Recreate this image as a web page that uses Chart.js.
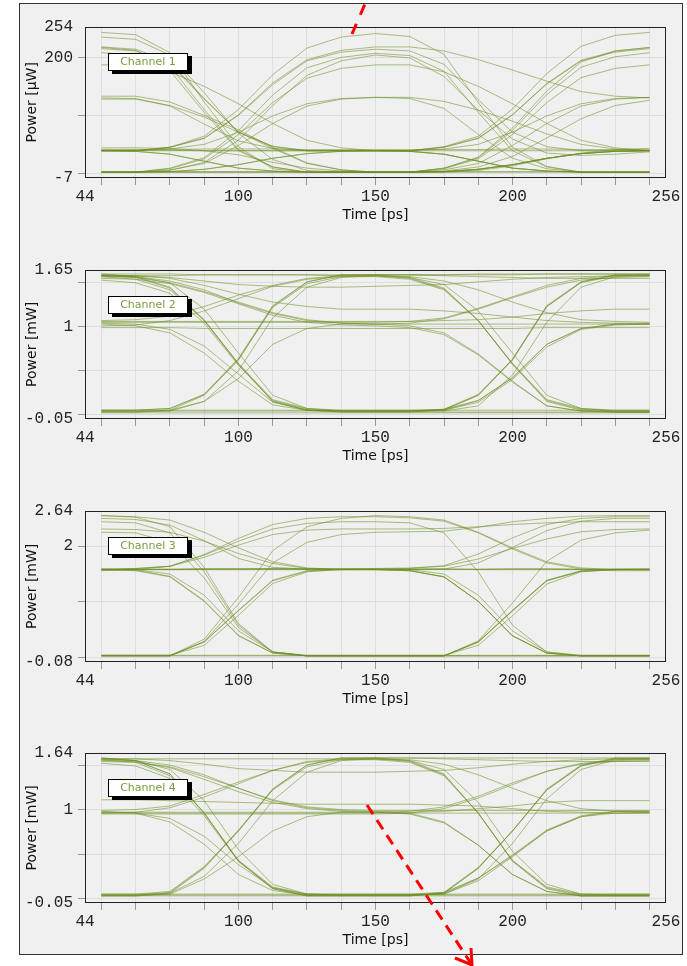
<!DOCTYPE html>
<html>
<head>
<meta charset="utf-8">
<script src="https://cdn.jsdelivr.net/npm/chart.js@4/dist/chart.umd.min.js"></script>
<style>
  html, body { margin: 0; padding: 0; background: #fff; overflow: hidden; width: 687px; height: 966px; }
  #panel { position: absolute; left: 19px; top: 3px; width: 662px; height: 950px; border: 1px solid #333; background: #f0f0f0; }
  canvas { position: absolute; left: 0; }
  .chan { position: absolute; left: 108px; width: 78px; height: 16px; border: 1px solid #000; background: #fff;
          box-shadow: 4px 3px 0 #000; font: 11px "DejaVu Sans", sans-serif; color: #7a9a3c; text-align: center; line-height: 16px; }
  #marks { position: absolute; left: 0; top: 0; pointer-events: none; }
</style>
</head>
<body>
<div id="panel"></div>
<canvas id="c1"></canvas>
<canvas id="c2"></canvas>
<canvas id="c3"></canvas>
<canvas id="c4"></canvas>
<div class="chan" id="l1">Channel 1</div>
<div class="chan" id="l2">Channel 2</div>
<div class="chan" id="l3">Channel 3</div>
<div class="chan" id="l4">Channel 4</div>
<svg id="marks" width="687" height="966">
  <line x1="352" y1="34" x2="365" y2="4" stroke="#f00" stroke-width="3" stroke-dasharray="11 10"/>
  <line x1="367" y1="805" x2="472" y2="965" stroke="#f00" stroke-width="3" stroke-dasharray="11 7"/>
  <polyline points="455,958 472,965 471,948" fill="none" stroke="#f00" stroke-width="3"/>
</svg>
<script>
// sample times of every trace (ps)
const timePs = [50, 62.5, 75, 87.5, 100, 112.5, 125, 137.5, 150, 162.5, 175, 187.5, 200, 212.5, 225, 237.5, 250];
const xRange = [44, 256];
const xLabelled = [100, 150, 200];

// y axes: range, grid lines, labelled values
const ch1Range = [-7, 254];    const ch1Grid = [0, 100, 200];      const ch1Labelled = [200];
const ch2Range = [-0.05, 1.65]; const ch2Grid = [0, 0.5, 1, 1.5];  const ch2Labelled = [1];
const ch3Range = [-0.08, 2.64]; const ch3Grid = [0, 1, 2];         const ch3Labelled = [2];
const ch4Range = [-0.05, 1.64]; const ch4Grid = [0, 0.5, 1, 1.5];  const ch4Labelled = [1];

// Channel 1, power in uW
const ch1Traces = [
  [244,240,209,124,47,9,3,3,3,3,4,8,16,27,35,39,40],
  [218,213,186,111,42,12,3,3,3,3,10,29,79,143,193,212,218],
  [216,212,190,129,72,47,40,40,40,39,34,22,10,5,3,3,3],
  [209,205,178,106,40,12,3,3,3,3,9,26,68,123,166,182,188],
  [188,188,176,151,121,87,58,45,40,40,43,51,72,100,121,130,132],
  [134,134,124,101,76,46,19,7,3,3,4,8,16,27,35,39,40],
  [131,130,117,86,57,44,40,40,40,39,34,22,10,5,3,3,3],
  [129,129,118,98,72,44,18,7,3,3,3,3,3,3,3,3,3],
  [40,40,46,65,111,171,217,236,242,237,206,123,46,13,3,3,3],
  [40,40,46,61,101,154,195,210,215,212,189,128,72,47,40,40,40],
  [41,41,41,40,40,40,40,40,40,40,47,65,112,173,220,239,244],
  [40,39,34,22,10,5,3,3,3,3,10,28,75,137,184,202,209],
  [40,40,43,51,72,100,121,130,132,132,125,110,91,69,51,43,40],
  [3,3,10,28,75,136,183,201,208,204,177,106,40,12,3,3,3],
  [3,3,9,26,68,123,165,182,188,188,176,151,121,87,58,45,40],
  [3,3,4,8,16,27,35,39,40,40,46,62,102,156,196,212,218],
  [3,3,3,3,3,3,3,3,3,3,7,18,49,87,117,129,132],
  [3,3,7,18,49,87,117,129,132,130,113,68,27,9,3,3,3],
  [40,39,34,22,10,5,3,3,3,3,4,8,16,27,35,39,40],
  [3,3,4,8,16,27,35,39,40,40,40,40,40,40,40,40,40],
  [40,40,40,40,40,40,40,40,40,39,34,22,10,5,3,3,3],
  [3,3,3,3,3,3,3,3,3,3,4,8,16,27,35,39,40],
  [42,42,42,43,43,43,42,42,42,42,42,42,43,43,42,42,42],
  [4,4,4,4,4,4,4,4,4,4,4,4,4,4,4,4,4],
  [219,215,193,130,72,48,40,40,40,40,46,61,102,155,195,210,216],
  [40,40,46,62,102,157,197,213,219,219,212,197,179,160,142,134,131],
  [236,232,205,140,70,25,6,3,3,3,5,12,30,62,95,118,127],
  [3,3,6,20,58,118,170,195,205,200,168,110,60,36,32,34,38],
  [45,45,44,40,33,20,10,5,3,3,3,6,14,26,36,42,44]
];

// Channel 2, power in mW
const ch2Traces = [
  [1.59,1.56,1.44,1.07,0.57,0.15,0.05,0.03,0.03,0.03,0.05,0.22,0.62,1.23,1.51,1.59,1.59],
  [1.57,1.54,1.42,1.07,0.58,0.17,0.07,0.05,0.05,0.05,0.06,0.16,0.42,0.80,0.98,1.03,1.03],
  [1.55,1.54,1.49,1.39,1.26,1.13,1.05,1.02,1.01,0.99,0.91,0.68,0.37,0.10,0.04,0.03,0.03],
  [1.01,1.02,1.07,1.18,1.32,1.46,1.54,1.57,1.58,1.55,1.43,1.07,0.58,0.16,0.06,0.04,0.04],
  [0.05,0.05,0.07,0.23,0.64,1.24,1.51,1.59,1.59,1.59,1.58,1.57,1.56,1.55,1.55,1.55,1.55],
  [0.03,0.03,0.04,0.15,0.41,0.80,0.98,1.03,1.03,1.01,0.93,0.69,0.38,0.10,0.04,0.03,0.03],
  [1.03,1.01,0.93,0.70,0.38,0.11,0.05,0.04,0.04,0.04,0.06,0.22,0.63,1.23,1.50,1.58,1.58],
  [1.58,1.58,1.56,1.52,1.48,1.46,1.45,1.45,1.46,1.47,1.48,1.51,1.54,1.56,1.57,1.58,1.58],
  [1.59,1.58,1.55,1.47,1.37,1.28,1.23,1.20,1.20,1.20,1.18,1.15,1.11,1.07,1.05,1.04,1.04],
  [1.06,1.06,1.06,1.06,1.06,1.06,1.06,1.06,1.06,1.06,1.07,1.08,1.11,1.15,1.18,1.20,1.20],
  [1.07,1.08,1.12,1.23,1.36,1.47,1.55,1.58,1.59,1.59,1.59,1.60,1.60,1.60,1.60,1.60,1.60],
  [1.58,1.58,1.58,1.59,1.59,1.59,1.59,1.58,1.58,1.57,1.52,1.42,1.28,1.16,1.08,1.06,1.05],
  [0.04,0.04,0.04,0.04,0.04,0.04,0.04,0.04,0.04,0.04,0.06,0.23,0.63,1.24,1.51,1.59,1.59],
  [0.05,0.05,0.07,0.23,0.63,1.22,1.49,1.57,1.57,1.54,1.42,1.07,0.58,0.17,0.07,0.05,0.05],
  [1.60,1.57,1.45,1.08,0.58,0.15,0.05,0.03,0.03,0.03,0.03,0.03,0.03,0.03,0.03,0.03,0.03],
  [0.02,0.02,0.02,0.02,0.02,0.02,0.02,0.02,0.02,0.02,0.02,0.02,0.02,0.02,0.02,0.02,0.02],
  [0.05,0.05,0.05,0.05,0.05,0.05,0.05,0.05,0.05,0.05,0.05,0.05,0.05,0.05,0.05,0.05,0.05],
  [0.99,0.99,0.99,0.98,0.98,0.98,0.98,0.98,0.98,0.98,0.98,0.98,0.98,0.99,0.99,0.99,0.99],
  [1.53,1.50,1.38,1.04,0.56,0.16,0.06,0.04,0.04,0.04,0.05,0.16,0.42,0.80,0.98,1.03,1.03],
  [0.03,0.03,0.05,0.22,0.62,1.23,1.51,1.59,1.59,1.56,1.44,1.07,0.57,0.15,0.05,0.03,0.03],
  [1.05,1.05,1.05,1.05,1.05,1.05,1.05,1.05,1.05,1.06,1.10,1.21,1.34,1.47,1.55,1.58,1.59],
  [1.58,1.57,1.52,1.42,1.27,1.15,1.07,1.04,1.03,1.03,1.03,1.03,1.03,1.03,1.03,1.03,1.03],
  [1.60,1.60,1.60,1.59,1.59,1.59,1.59,1.59,1.59,1.59,1.59,1.59,1.59,1.60,1.60,1.60,1.60],
  [1.58,1.57,1.50,1.20,0.70,0.22,0.07,0.04,0.04,0.04,0.04,0.10,0.45,1.05,1.45,1.57,1.58],
  [0.04,0.04,0.05,0.15,0.50,1.10,1.45,1.56,1.58,1.56,1.48,1.18,0.70,0.22,0.07,0.04,0.04],
  [1.57,1.56,1.50,1.40,1.28,1.16,1.08,1.04,1.03,1.04,1.09,1.20,1.33,1.45,1.53,1.56,1.57],
  [1.04,1.03,0.97,0.78,0.46,0.14,0.05,0.04,0.04,0.04,0.05,0.14,0.40,0.77,0.97,1.02,1.03]
];

// Channel 3, power in mW
const ch3Traces = [
  [1.58,1.56,1.45,1.01,0.39,0.08,0.03,0.03,0.03,0.03,0.03,0.28,0.84,1.38,1.55,1.58,1.58],
  [1.59,1.57,1.46,1.02,0.40,0.08,0.03,0.03,0.03,0.03,0.03,0.03,0.03,0.03,0.03,0.03,0.03],
  [0.03,0.03,0.03,0.28,0.84,1.38,1.55,1.58,1.58,1.56,1.45,1.01,0.39,0.08,0.03,0.03,0.03],
  [0.03,0.03,0.03,0.03,0.03,0.03,0.03,0.03,0.03,0.03,0.03,0.28,0.85,1.39,1.56,1.59,1.59],
  [0.04,0.04,0.04,0.28,0.85,1.39,1.56,1.59,1.59,1.59,1.59,1.58,1.58,1.58,1.58,1.58,1.58],
  [1.58,1.58,1.58,1.58,1.58,1.58,1.58,1.58,1.58,1.56,1.45,1.01,0.39,0.08,0.03,0.03,0.03],
  [2.55,2.53,2.47,2.25,1.97,1.72,1.61,1.58,1.58,1.60,1.65,1.86,2.15,2.39,2.50,2.53,2.53],
  [2.44,2.42,2.24,1.54,0.58,0.10,0.03,0.03,0.03,0.03,0.03,0.30,0.98,1.73,2.11,2.24,2.29],
  [0.03,0.03,0.03,0.33,1.08,1.92,2.35,2.50,2.55,2.53,2.47,2.25,1.97,1.72,1.61,1.58,1.58],
  [2.31,2.30,2.25,2.09,1.87,1.69,1.60,1.58,1.58,1.56,1.45,1.01,0.39,0.08,0.03,0.03,0.03],
  [1.58,1.60,1.64,1.84,2.09,2.31,2.41,2.44,2.44,2.42,2.24,1.54,0.58,0.10,0.03,0.03,0.03],
  [2.25,2.24,2.07,1.43,0.54,0.10,0.03,0.03,0.03,0.03,0.03,0.28,0.84,1.38,1.55,1.58,1.58],
  [1.58,1.60,1.64,1.80,2.02,2.21,2.29,2.31,2.31,2.31,2.32,2.35,2.39,2.42,2.44,2.44,2.44],
  [0.03,0.03,0.03,0.29,0.96,1.70,2.07,2.21,2.25,2.26,2.27,2.34,2.44,2.50,2.54,2.55,2.55],
  [1.56,1.58,1.64,1.85,2.14,2.39,2.50,2.53,2.53,2.51,2.45,2.24,1.95,1.70,1.59,1.56,1.56],
  [2.55,2.52,2.35,1.62,0.61,0.10,0.03,0.03,0.03,0.03,0.03,0.03,0.03,0.03,0.03,0.03,0.03],
  [0.04,0.04,0.04,0.04,0.04,0.04,0.04,0.04,0.04,0.04,0.04,0.04,0.04,0.04,0.04,0.04,0.04],
  [1.58,1.58,1.58,1.58,1.58,1.58,1.58,1.58,1.58,1.58,1.58,1.58,1.58,1.58,1.58,1.58,1.58],
  [1.59,1.59,1.59,1.60,1.60,1.60,1.59,1.59,1.59,1.59,1.59,1.59,1.60,1.60,1.59,1.59,1.59],
  [1.57,1.58,1.58,1.59,1.59,1.60,1.60,1.60,1.60,1.61,1.64,1.77,1.96,2.13,2.26,2.30,2.31],
  [1.59,1.58,1.50,1.12,0.48,0.10,0.04,0.04,0.04,0.04,0.04,0.22,0.75,1.32,1.54,1.58,1.59],
  [0.04,0.04,0.04,0.22,0.76,1.33,1.54,1.58,1.59,1.58,1.50,1.12,0.48,0.10,0.04,0.04,0.04],
  [2.50,2.48,2.38,2.10,1.78,1.62,1.59,1.58,1.58,1.58,1.59,1.70,1.98,2.28,2.45,2.50,2.50]
];

// Channel 4, power in mW
const ch4Traces = [
  [1.58,1.55,1.40,0.96,0.42,0.11,0.03,0.03,0.03,0.03,0.06,0.34,0.76,1.23,1.50,1.58,1.58],
  [1.56,1.53,1.38,0.96,0.43,0.13,0.05,0.05,0.05,0.05,0.07,0.23,0.49,0.77,0.93,0.98,0.98],
  [1.54,1.53,1.48,1.37,1.24,1.10,1.02,0.99,0.98,0.96,0.86,0.60,0.27,0.08,0.03,0.03,0.03],
  [0.96,0.97,1.02,1.14,1.29,1.44,1.53,1.56,1.57,1.54,1.39,0.96,0.42,0.12,0.04,0.04,0.04],
  [0.04,0.04,0.07,0.35,0.77,1.23,1.50,1.58,1.58,1.58,1.57,1.56,1.55,1.54,1.54,1.54,1.54],
  [0.03,0.03,0.05,0.22,0.47,0.76,0.92,0.97,0.97,0.95,0.85,0.60,0.27,0.08,0.03,0.03,0.03],
  [0.98,0.96,0.86,0.61,0.27,0.09,0.04,0.04,0.04,0.04,0.07,0.35,0.76,1.22,1.49,1.57,1.57],
  [1.57,1.57,1.55,1.51,1.46,1.44,1.42,1.42,1.42,1.43,1.44,1.47,1.51,1.54,1.56,1.57,1.57],
  [1.11,1.11,1.10,1.09,1.08,1.07,1.06,1.06,1.06,1.06,1.05,1.04,1.01,0.98,0.97,0.96,0.96],
  [0.97,0.97,0.97,0.97,0.97,0.97,0.97,0.97,0.97,0.97,0.98,1.01,1.04,1.08,1.10,1.10,1.10],
  [0.99,1.00,1.04,1.17,1.31,1.44,1.54,1.57,1.58,1.58,1.58,1.58,1.58,1.58,1.58,1.58,1.58],
  [1.57,1.57,1.57,1.57,1.57,1.57,1.57,1.57,1.57,1.56,1.51,1.39,1.24,1.10,1.01,0.98,0.97],
  [0.03,0.03,0.03,0.03,0.03,0.03,0.03,0.03,0.03,0.03,0.06,0.34,0.76,1.22,1.49,1.57,1.57],
  [0.05,0.05,0.08,0.36,0.76,1.22,1.48,1.56,1.56,1.53,1.38,0.96,0.43,0.13,0.05,0.05,0.05],
  [1.58,1.55,1.40,0.96,0.42,0.11,0.03,0.03,0.03,0.03,0.03,0.03,0.03,0.03,0.03,0.03,0.03],
  [0.04,0.04,0.04,0.04,0.04,0.04,0.04,0.04,0.04,0.04,0.04,0.04,0.04,0.04,0.04,0.04,0.04],
  [0.05,0.05,0.05,0.05,0.05,0.05,0.05,0.05,0.05,0.05,0.05,0.05,0.05,0.05,0.05,0.05,0.05],
  [0.96,0.96,0.96,0.96,0.96,0.96,0.96,0.96,0.96,0.96,0.96,0.96,0.96,0.96,0.96,0.96,0.96],
  [1.52,1.49,1.35,0.93,0.42,0.12,0.04,0.04,0.04,0.04,0.06,0.23,0.48,0.76,0.92,0.98,0.98],
  [0.95,0.95,0.95,0.95,0.95,0.95,0.95,0.95,0.95,0.96,1.01,1.13,1.28,1.43,1.52,1.55,1.56],
  [1.56,1.55,1.50,1.39,1.24,1.11,1.03,1.00,0.99,0.99,0.99,0.99,0.99,0.99,0.99,0.99,0.99],
  [0.03,0.03,0.06,0.34,0.76,1.23,1.50,1.58,1.58,1.55,1.40,0.96,0.42,0.11,0.03,0.03,0.03],
  [1.57,1.55,1.45,1.10,0.55,0.16,0.05,0.04,0.04,0.04,0.05,0.22,0.62,1.12,1.45,1.56,1.57],
  [0.04,0.04,0.06,0.25,0.62,1.10,1.42,1.55,1.57,1.55,1.45,1.08,0.53,0.16,0.05,0.04,0.04],
  [1.55,1.54,1.47,1.34,1.20,1.08,1.01,0.98,0.97,0.98,1.03,1.15,1.30,1.43,1.51,1.54,1.55],
  [0.97,0.96,0.90,0.70,0.38,0.12,0.05,0.04,0.04,0.04,0.05,0.20,0.47,0.76,0.92,0.96,0.97]
];

const lineColor = 'rgba(107,142,35,0.55)';
const gridColor = '#dedede';
const tickMarkColor = '#999';
const none = 'rgba(0,0,0,0)';
const tickFont = { family: '"Liberation Mono", monospace', size: 16 };
const titleFont = { family: '"DejaVu Sans", sans-serif', size: 14 };

// frame box round the plot area
const framePlugin = {
  id: 'frame',
  afterDatasetsDraw(chart) {
    const a = chart.chartArea;
    const ctx = chart.ctx;
    ctx.save();
    ctx.strokeStyle = '#222';
    ctx.lineWidth = 1;
    ctx.strokeRect(Math.round(a.left) + 0.5, Math.round(a.top) + 0.5,
                   Math.round(a.right - a.left) - 1, Math.round(a.bottom - a.top) - 1);
    ctx.restore();
  }
};

function makeChart(id, legendId, frameTop, frameH, traces, range, grid, labelled, unit) {
  const canvas = document.getElementById(id);
  canvas.width = 687;
  canvas.height = frameH + 72;
  canvas.style.top = (frameTop - 12) + 'px';
  document.getElementById(legendId).style.top = (frameTop + 29) + 'px';

  const xTicks = [xRange[0], ...timePs, xRange[1]];
  const yTicks = [range[0], ...grid, range[1]];
  const xEdge = v => v === xRange[0] || v === xRange[1];
  const yEdge = v => v === range[0] || v === range[1];

  new Chart(canvas, {
    type: 'line',
    data: {
      labels: timePs,
      datasets: traces.map(t => ({
        data: t,
        borderColor: lineColor,
        borderWidth: 1,
        pointRadius: 0,
        tension: 0,
        fill: false
      }))
    },
    options: {
      responsive: false,
      animation: false,
      devicePixelRatio: 1,
      layout: { padding: { top: 12, right: 21, left: 0, bottom: 0 } },
      plugins: { legend: { display: false }, tooltip: { enabled: false } },
      scales: {
        x: {
          type: 'linear',
          min: xRange[0],
          max: xRange[1],
          afterBuildTicks: s => { s.ticks = xTicks.map(v => ({ value: v })); },
          afterFit: s => { s.height = 60; },
          border: { display: false },
          grid: {
            color: c => xEdge(c.tick.value) ? none : gridColor,
            tickColor: c => xEdge(c.tick.value) ? none : tickMarkColor,
            tickLength: 7
          },
          ticks: {
            autoSkip: false, maxRotation: 0, padding: 2, color: '#222', font: tickFont,
            callback: v => (xEdge(v) || xLabelled.includes(v)) ? String(v) : ''
          },
          title: { display: true, text: 'Time [ps]', color: '#111', font: titleFont, padding: { top: 0, bottom: 14 } }
        },
        y: {
          type: 'linear',
          min: range[0],
          max: range[1],
          afterBuildTicks: s => { s.ticks = yTicks.map(v => ({ value: v })); },
          afterFit: s => { s.width = 85; },
          border: { display: false },
          grid: {
            color: c => yEdge(c.tick.value) ? none : gridColor,
            tickColor: c => yEdge(c.tick.value) ? none : tickMarkColor,
            tickLength: 7
          },
          ticks: {
            autoSkip: false, padding: 5, color: '#222', font: tickFont,
            callback: v => (yEdge(v) || labelled.includes(v)) ? String(v) : ''
          },
          title: { display: true, text: 'Power [' + unit + ']', color: '#111', font: titleFont, padding: { top: 24, bottom: 0 } }
        }
      }
    },
    plugins: [framePlugin]
  });
}

makeChart('c1', 'l1', 24, 154, ch1Traces, ch1Range, ch1Grid, ch1Labelled, '\u00b5W');
makeChart('c2', 'l2', 267, 152, ch2Traces, ch2Range, ch2Grid, ch2Labelled, 'mW');
makeChart('c3', 'l3', 508, 154, ch3Traces, ch3Range, ch3Grid, ch3Labelled, 'mW');
makeChart('c4', 'l4', 750, 153, ch4Traces, ch4Range, ch4Grid, ch4Labelled, 'mW');
</script>
</body>
</html>
